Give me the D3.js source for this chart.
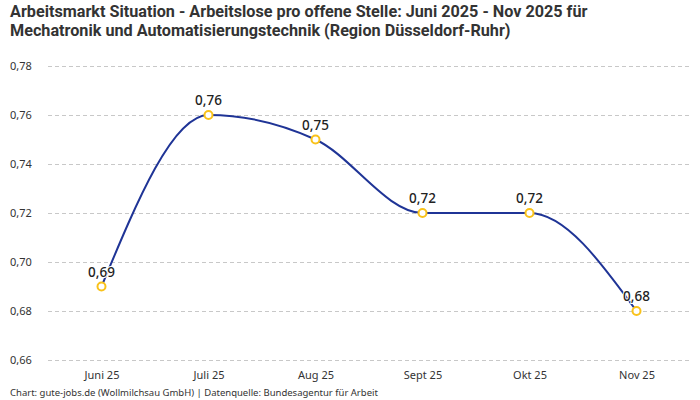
<!DOCTYPE html>
<html>
<head>
<meta charset="utf-8">
<script src="https://cdn.jsdelivr.net/npm/d3@7"></script>
<style>
  body { margin: 0; background: #fff; }
  svg { display: block; }
  .title { font-family: 'Liberation Sans Narrow', 'Roboto', sans-serif; font-weight: bold; font-size: 16.2px; fill: #333; }
  .tick text { font-family: 'Noto Sans', sans-serif; font-size: 11px; fill: #333; }
  .val { font-family: 'Noto Sans', sans-serif; font-size: 13.5px; font-weight: 500; fill: #222; }
  .foot { font-family: 'Noto Sans', sans-serif; font-size: 9.5px; fill: #333; }
</style>
</head>
<body>
<svg id="chart" width="700" height="400"></svg>
<script>
// data
const months = ['Juni 25', 'Juli 25', 'Aug 25', 'Sept 25', 'Okt 25', 'Nov 25']
const values = [0.69, 0.76, 0.75, 0.72, 0.72, 0.68]
const yTicks = [0.66, 0.68, 0.70, 0.72, 0.74, 0.76, 0.78]
const titleLines = [
    'Arbeitsmarkt Situation - Arbeitslose pro offene Stelle: Juni 2025 - Nov 2025 für',
    'Mechatronik und Automatisierungstechnik (Region Düsseldorf-Ruhr)'
]
const footer = 'Chart: gute-jobs.de (Wollmilchsau GmbH) | Datenquelle: Bundesagentur für Arbeit'

const svg = d3.select('#chart')
const plotLeft = 48, plotRight = 690, plotTop = 66, plotBottom = 360
const fmt = v => d3.format('.2f')(v).replace('.', ',')

svg.selectAll('.title')
    .data(titleLines)
    .enter()
    .append('text')
    .attr('class', 'title')
    .attr('x', 10)
    .attr('y', (d, i) => 17 + i * 19)
    .text(d => d)

let x = d3.scalePoint().domain(months).range([plotLeft, plotRight]).padding(0.5)
let y = d3.scaleLinear().domain([0.66, 0.78]).range([plotBottom, plotTop])

// gridlines + y labels
let yAxis = svg.append('g')
    .attr('transform', `translate(${plotLeft},0)`)
    .call(d3.axisLeft(y).tickValues(yTicks).tickFormat(fmt).tickSize(-(plotRight - plotLeft)).tickPadding(0))
yAxis.select('.domain').remove()
yAxis.selectAll('.tick line')
    .attr('stroke', '#c8c8c8')
    .attr('stroke-dasharray', '4,3')
yAxis.selectAll('.tick text')
    .attr('text-anchor', 'start')
    .attr('x', -38)

let xAxis = svg.append('g')
    .attr('transform', `translate(0,${plotBottom})`)
    .call(d3.axisBottom(x).tickSize(0).tickPadding(11))
xAxis.select('.domain').remove()

let line = d3.line()
    .x((d, i) => x(months[i]))
    .y(d => y(d))
    .curve(d3.curveMonotoneX)

svg.append('path')
    .datum(values)
    .attr('d', line)
    .attr('fill', 'none')
    .attr('stroke', '#1f3496')
    .attr('stroke-width', 2)

svg.selectAll('.val')
    .data(values)
    .enter()
    .append('text')
    .attr('class', 'val')
    .attr('x', (d, i) => x(months[i]))
    .attr('y', d => y(d) - 10)
    .attr('text-anchor', 'middle')
    .attr('stroke', '#fff')
    .attr('stroke-width', 2)
    .attr('paint-order', 'stroke')
    .text(fmt)

svg.selectAll('.dot')
    .data(values)
    .enter()
    .append('circle')
    .attr('class', 'dot')
    .attr('cx', (d, i) => x(months[i]))
    .attr('cy', d => y(d))
    .attr('r', 4)
    .attr('fill', '#fff')
    .attr('stroke', '#f9c21a')
    .attr('stroke-width', 2)

svg.append('text')
    .attr('class', 'foot')
    .attr('x', 10)
    .attr('y', 396)
    .text(footer)
</script>
</body>
</html>
